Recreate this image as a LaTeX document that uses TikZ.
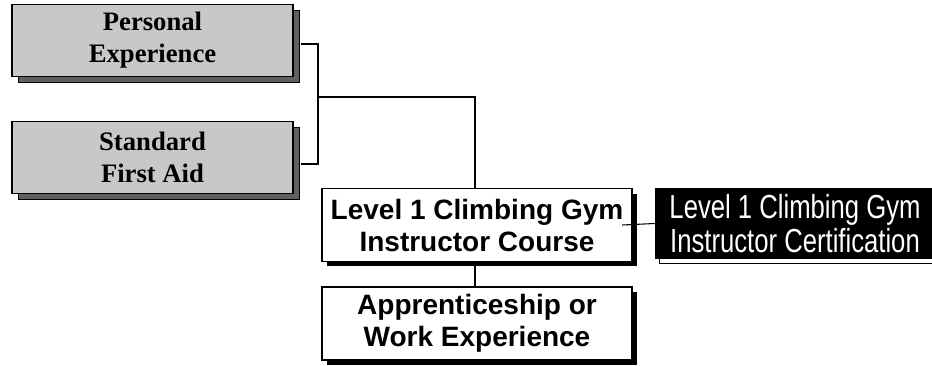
\documentclass[tikz,border=0pt]{standalone}
\usepackage{fontspec}
\setmainfont{Liberation Serif}
\newfontfamily\coursefont{Liberation Sans}
\newfontfamily\certfont[FakeStretch=0.77]{Liberation Sans}
\usetikzlibrary{shadows}
\definecolor{prereqfill}{RGB}{200,200,200}
\definecolor{prereqshade}{RGB}{96,96,96}
\tikzset{
  prereq/.style={draw, line width=1.1pt, fill=prereqfill, align=center,
    minimum width=210.75pt, minimum height=54pt, inner sep=0pt,
    font=\bfseries\fontsize{20}{24}\selectfont,
    general shadow={shadow xshift=5pt, shadow yshift=-4.5pt, fill=prereqshade, draw=black, line width=1.1pt}},
  course/.style={draw, line width=1.1pt, fill=white, align=center,
    minimum width=232.5pt, minimum height=54.5pt, inner sep=0pt,
    font=\coursefont\bfseries\fontsize{21}{24}\selectfont,
    general shadow={shadow xshift=3.75pt, shadow yshift=-3.75pt, fill=black}},
  cert/.style={fill=black, text=white, align=center,
    minimum width=210pt, minimum height=53.25pt, inner sep=0pt,
    font=\certfont\fontsize{25}{25}\selectfont,
    general shadow={shadow xshift=3.5pt, shadow yshift=-3.5pt, fill=white, draw=black, line width=0.6pt}}
}
\begin{document}
\begin{tikzpicture}[x=0.75pt,y=-0.75pt]
  \useasboundingbox (0,0) rectangle (932,365);
  \draw
    (152.5,40.5) node[prereq] (pe) {Personal\\Experience}
    (152.5,157.5) node[prereq] (sfa) {Standard\\First Aid}
    (477,225) node[course] (l1c) {Level 1 Climbing Gym\\Instructor Course}
    (477,323.5) node[course] (work) {Apprenticeship or\\Work Experience}
    (795,223.5) node[cert] (l1i) {Level 1 Climbing Gym\\Instructor Certification};
  \coordinate (jn) at (318,97);
  \begin{scope}[line width=0.8pt]
    \draw ([shift={(7,3.5)}]pe.east) -| (jn) |- ([shift={(7,6.5)}]sfa.east);
    \draw (jn) -| ([xshift=-1.5pt]l1c.north);
    \draw ([xshift=-8pt]l1c.east) -- (l1i.west);
    \draw ([xshift=-1.5pt]l1c.south) -- ([xshift=-1.5pt]work.north);
  \end{scope}
\end{tikzpicture}
\end{document}
